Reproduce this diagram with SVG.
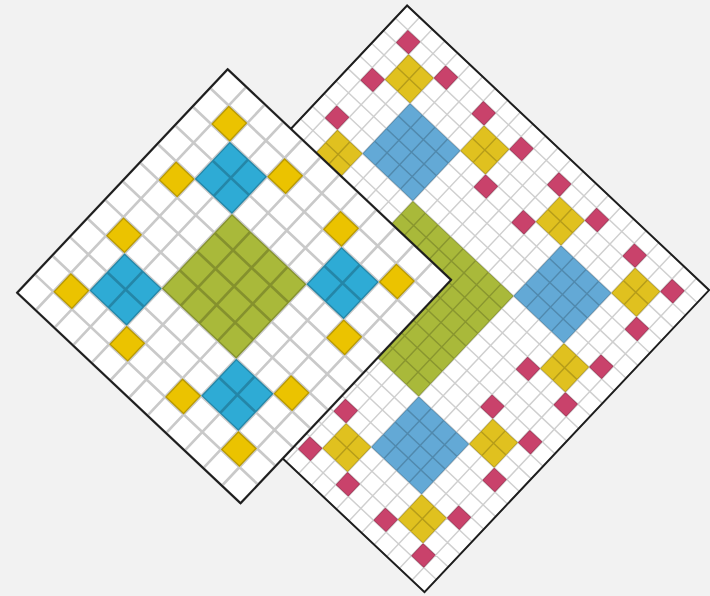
<svg xmlns="http://www.w3.org/2000/svg" xmlns:xlink="http://www.w3.org/1999/xlink" width="710" height="596" viewBox="0 0 710 596">
  <style>
    .paper{fill:#ffffff}
    .g{fill:#a9b93a}
    .fb{fill:#2eabd5}
    .fy{fill:#ebc300}
    .bb{fill:#63a9d6}
    .by{fill:#e0c11f}
    .br{fill:#c9426b}
    .edge{fill:none;stroke:#1e1e1e;stroke-linejoin:miter}
  </style>
  <defs>
    <g id="backQuad">
      <rect class="bb" x="4" y="4" width="4" height="4"/>
      <rect class="by" x="8" y="8" width="2" height="2"/>
      <rect class="by" x="8" y="2" width="2" height="2"/>
      <rect class="by" x="2" y="8" width="2" height="2"/>
      <rect class="br" x="10" y="10" width="1" height="1"/>
      <rect class="br" x="10" y="7" width="1" height="1"/>
      <rect class="br" x="7" y="10" width="1" height="1"/>
      <rect class="br" x="10" y="1" width="1" height="1"/>
      <rect class="br" x="10" y="4" width="1" height="1"/>
      <rect class="br" x="7" y="1" width="1" height="1"/>
      <rect class="br" x="1" y="10" width="1" height="1"/>
      <rect class="br" x="4" y="10" width="1" height="1"/>
      <rect class="br" x="1" y="7" width="1" height="1"/>
    </g>
    <g id="frontQuad">
      <rect class="fb" x="2" y="2" width="2" height="2"/>
      <rect class="fy" x="4" y="4" width="1" height="1"/>
      <rect class="fy" x="4" y="1" width="1" height="1"/>
      <rect class="fy" x="1" y="4" width="1" height="1"/>
    </g>
  </defs>
  <rect width="710" height="596" fill="#f2f2f2"/>

  <!-- back grid -->
  <g id="back" transform="translate(415.8 298.8) rotate(43.3)">
    <g transform="scale(17.2917)">
      <rect class="paper" x="-12" y="-12" width="24" height="24"/>
      <rect class="g" x="-4" y="-4" width="8" height="8"/>
      <use xlink:href="#backQuad"/>
      <use xlink:href="#backQuad" transform="scale(-1 1)"/>
      <use xlink:href="#backQuad" transform="scale(1 -1)"/>
      <use xlink:href="#backQuad" transform="scale(-1 -1)"/>
      <path fill="none" stroke="#000" stroke-opacity="0.19" stroke-width="0.085" d="M-12 -12V12M-11 -12V12M-10 -12V12M-9 -12V12M-8 -12V12M-7 -12V12M-6 -12V12M-5 -12V12M-4 -12V12M-3 -12V12M-2 -12V12M-1 -12V12M0 -12V12M1 -12V12M2 -12V12M3 -12V12M4 -12V12M5 -12V12M6 -12V12M7 -12V12M8 -12V12M9 -12V12M10 -12V12M11 -12V12M12 -12V12M-12 -12H12M-12 -11H12M-12 -10H12M-12 -9H12M-12 -8H12M-12 -7H12M-12 -6H12M-12 -5H12M-12 -4H12M-12 -3H12M-12 -2H12M-12 -1H12M-12 0H12M-12 1H12M-12 2H12M-12 3H12M-12 4H12M-12 5H12M-12 6H12M-12 7H12M-12 8H12M-12 9H12M-12 10H12M-12 11H12M-12 12H12"/>
      <rect class="edge" x="-12" y="-12" width="24" height="24" stroke-width="0.115"/>
    </g>
  </g>

  <!-- front grid -->
  <g id="front" transform="translate(234.1 286.3) rotate(43.3)">
    <g transform="scale(25.5833)">
      <rect class="paper" x="-6" y="-6" width="12" height="12"/>
      <rect class="g" x="-2" y="-2" width="4" height="4"/>
      <use xlink:href="#frontQuad"/>
      <use xlink:href="#frontQuad" transform="scale(-1 1)"/>
      <use xlink:href="#frontQuad" transform="scale(1 -1)"/>
      <use xlink:href="#frontQuad" transform="scale(-1 -1)"/>
      <path fill="none" stroke="#000" stroke-opacity="0.21" stroke-width="0.105" d="M-6 -6V6M-5 -6V6M-4 -6V6M-3 -6V6M-2 -6V6M-1 -6V6M0 -6V6M1 -6V6M2 -6V6M3 -6V6M4 -6V6M5 -6V6M6 -6V6M-6 -6H6M-6 -5H6M-6 -4H6M-6 -3H6M-6 -2H6M-6 -1H6M-6 0H6M-6 1H6M-6 2H6M-6 3H6M-6 4H6M-6 5H6M-6 6H6"/>
      <rect class="edge" x="-6" y="-6" width="12" height="12" stroke-width="0.08"/>
    </g>
  </g>
</svg>
